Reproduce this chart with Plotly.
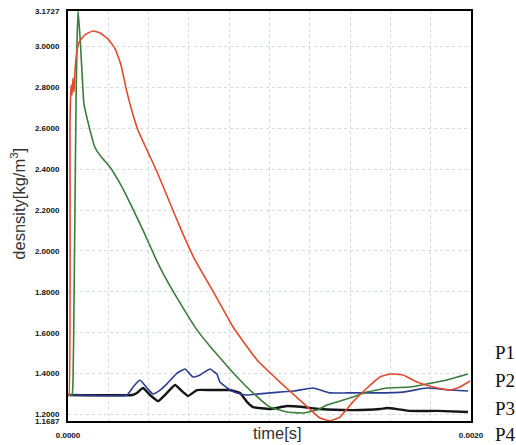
import plotly.graph_objects as go

# ---- data (time in s, density in kg/m^3) ----
red_t = [0.0, 0.000005, 0.000010, 0.000015, 0.000020, 0.000025, 0.000030, 0.000035, 0.000045,
         0.000055, 0.000070, 0.000089, 0.000124, 0.000159, 0.000199, 0.000233, 0.000263, 0.000288,
         0.000313, 0.000347, 0.000392, 0.000442, 0.000506, 0.000566, 0.000630, 0.000730, 0.000819,
         0.000938, 0.001052, 0.001166, 0.001251, 0.001300, 0.001350, 0.001414, 0.001484, 0.001548,
         0.001598, 0.001663, 0.001732, 0.001811, 0.001896, 0.001945, 0.001995]
red_v = [1.296, 1.296, 2.640, 2.811, 2.762, 2.845, 2.777, 2.884, 2.982,
         3.021, 3.041, 3.060, 3.075, 3.065, 3.035, 2.990, 2.909, 2.796,
         2.699, 2.591, 2.493, 2.386, 2.234, 2.093, 1.956, 1.785, 1.628,
         1.467, 1.359, 1.257, 1.183, 1.170, 1.188, 1.262, 1.330, 1.384,
         1.398, 1.394, 1.359, 1.335, 1.320, 1.335, 1.364]

green_t = [0.0, 0.000020, 0.000025, 0.000030, 0.000035, 0.000040, 0.000045, 0.000050, 0.000060,
           0.000069, 0.000079, 0.000099, 0.000114, 0.000129, 0.000144, 0.000174, 0.000208, 0.000248,
           0.000278, 0.000308, 0.000372, 0.000432, 0.000471, 0.000556, 0.000640, 0.000720, 0.000764,
           0.000794, 0.000839, 0.000918, 0.001002, 0.001087, 0.001166, 0.001236, 0.001285, 0.001335,
           0.001414, 0.001484, 0.001583, 0.001697, 0.001782, 0.001881, 0.001985]
green_v = [1.296, 1.296, 1.369, 1.760, 2.249, 2.738, 3.031, 3.172, 3.041,
           2.884, 2.718, 2.630, 2.572, 2.518, 2.488, 2.449, 2.410, 2.347,
           2.293, 2.234, 2.102, 1.970, 1.892, 1.746, 1.614, 1.516, 1.467,
           1.433, 1.384, 1.306, 1.237, 1.213, 1.208, 1.222, 1.247, 1.262,
           1.286, 1.310, 1.330, 1.335, 1.350, 1.369, 1.398]

blue_t = [0.0, 0.000293, 0.000323, 0.000357, 0.000392, 0.000422, 0.000457, 0.000491, 0.000541,
          0.000581, 0.000620, 0.000655, 0.000705, 0.000739, 0.000754, 0.000804, 0.000839, 0.000888,
          0.001002, 0.001117, 0.001216, 0.001300, 0.001385, 0.001464, 0.001534, 0.001663, 0.001782,
          0.001896, 0.001985]
blue_v = [1.296, 1.296, 1.335, 1.369, 1.330, 1.301, 1.320, 1.350, 1.403,
          1.423, 1.384, 1.394, 1.423, 1.398, 1.359, 1.320, 1.306, 1.296,
          1.306, 1.315, 1.330, 1.306, 1.306, 1.306, 1.306, 1.310, 1.330,
          1.320, 1.315]

black_t = [0.0, 0.000318, 0.000342, 0.000372, 0.000407, 0.000447, 0.000491, 0.000531, 0.000571,
           0.000596, 0.000640, 0.000705, 0.000754, 0.000804, 0.000854, 0.000888, 0.000918, 0.001002,
           0.001087, 0.001166, 0.001251, 0.001414, 0.001548, 0.001583, 0.001633, 0.001697, 0.001831,
           0.001985]
black_v = [1.296, 1.296, 1.306, 1.330, 1.296, 1.266, 1.306, 1.345, 1.310,
           1.291, 1.320, 1.320, 1.320, 1.320, 1.306, 1.262, 1.237, 1.227,
           1.242, 1.237, 1.227, 1.222, 1.227, 1.232, 1.227, 1.218, 1.218,
           1.213]

y_ticks = [1.1687, 1.2, 1.4, 1.6, 1.8, 2.0, 2.2, 2.4, 2.6, 2.8, 3.0, 3.1727]
y_tick_text = ["1.1687", "1.2000", "1.4000", "1.6000", "1.8000", "2.0000", "2.2000",
               "2.4000", "2.6000", "2.8000", "3.0000", "3.1727"]
x_ticks = [0.0, 0.002]
x_tick_text = ["0.0000", "0.0020"]
labels = ["P1", "P2", "P3", "P4"]

fig = go.Figure()
series = [
    (black_t, black_v, "#151515", 2.4),
    (blue_t, blue_v, "#2b3d92", 1.6),
    (green_t, green_v, "#3b7d3b", 1.6),
    (red_t, red_v, "#e4492c", 1.6),
]
for t, v, c, w in series:
    fig.add_trace(go.Scatter(x=t, y=v, mode="lines",
                             line=dict(color=c, width=w, shape="spline", smoothing=0.35),
                             showlegend=False, hoverinfo="skip"))

grid = "#d6d9e6"
tick_font = dict(family="Liberation Sans", size=8, color="#111", weight="bold")
fig.update_xaxes(range=[0, 0.002], tickvals=x_ticks, ticktext=x_tick_text,
                 showgrid=False, zeroline=False, automargin=False,
                 showline=True, linecolor="black", linewidth=2, mirror=True,
                 ticks="", tickfont=tick_font, ticklabelstandoff=5,
                 minor=dict(dtick=0.0002, tick0=0, showgrid=True, gridcolor=grid,
                            griddash="dot", gridwidth=1))
fig.update_yaxes(range=[1.1687, 3.1727], tickvals=y_ticks, ticktext=y_tick_text,
                 showgrid=True, gridcolor=grid, griddash="dot", gridwidth=1,
                 zeroline=False, automargin=False,
                 showline=True, linecolor="black", linewidth=2, mirror=True,
                 ticks="", tickfont=tick_font, ticklabelstandoff=5)

fig.add_annotation(x=-0.124, y=0.53, xref="paper", yref="paper", text="desnsity[kg/m<sup>3</sup>]",
                   textangle=-90, showarrow=False, xanchor="center", yanchor="middle",
                   font=dict(family="Liberation Sans", size=16.5, color="#333"))
fig.add_annotation(x=0.519, y=-0.029, xref="paper", yref="paper", text="time[s]",
                   showarrow=False, xanchor="center", yanchor="middle",
                   font=dict(family="Liberation Sans", size=16.5, color="#333"))
label_y = [0.166, 0.0976, 0.0317, -0.033]
for lab, yy in zip(labels, label_y):
    fig.add_annotation(x=1.055, y=yy, xref="paper", yref="paper", text=lab,
                       showarrow=False, xanchor="left", yanchor="middle",
                       font=dict(family="Liberation Serif", size=19, color="#111"))

fig.update_layout(width=516, height=445, margin=dict(l=68, r=45, t=11, b=24),
                  plot_bgcolor="white", paper_bgcolor="white")
fig.write_html("out.html")
